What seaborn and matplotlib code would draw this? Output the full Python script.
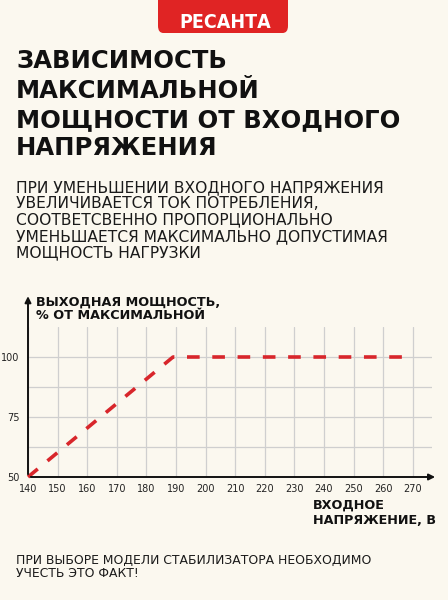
import numpy as np
import pandas as pd
import seaborn as sns
import matplotlib.pyplot as plt
from matplotlib.patches import FancyBboxPatch

# данные графика
voltage = [140, 189, 270]
power = [50, 100, 100]
x_ticks = list(range(140, 271, 10))
y_ticks = [50, 75, 100]
y_minor = [62.5, 87.5]

title_lines = ["ЗАВИСИМОСТЬ", "МАКСИМАЛЬНОЙ", "МОЩНОСТИ ОТ ВХОДНОГО", "НАПРЯЖЕНИЯ"]
sub_lines = [
    "ПРИ УМЕНЬШЕНИИ ВХОДНОГО НАПРЯЖЕНИЯ",
    "УВЕЛИЧИВАЕТСЯ ТОК ПОТРЕБЛЕНИЯ,",
    "СООТВЕТСВЕННО ПРОПОРЦИОНАЛЬНО",
    "УМЕНЬШАЕТСЯ МАКСИМАЛЬНО ДОПУСТИМАЯ",
    "МОЩНОСТЬ НАГРУЗКИ",
]
note_lines = ["ПРИ ВЫБОРЕ МОДЕЛИ СТАБИЛИЗАТОРА НЕОБХОДИМО", "УЧЕСТЬ ЭТО ФАКТ!"]

BG = "#fbf8ef"
RED = "#d8262b"
W, H = 448, 600

sns.set_theme(style="white")
plt.rcParams["font.family"] = ["DejaVu Sans"]

fig = plt.figure(figsize=(W / 100, H / 100), dpi=100, facecolor=BG)


def fx(px):
    return px / W


def fy(py):
    return 1 - py / H


# логотип
logo = FancyBboxPatch((fx(158), fy(33)), fx(288) - fx(158), fy(0) - fy(33) + 0.02,
                      boxstyle="round,pad=0,rounding_size=0.012", transform=fig.transFigure,
                      facecolor="#e02424", edgecolor="none", zorder=1)
fig.patches.append(logo)
fig.text(fx(225), fy(28), "РЕСАНТА", color="white", ha="center", va="baseline",
         fontsize=14, fontweight="bold", fontstretch="condensed",
         family=["Liberation Sans Narrow", "DejaVu Sans"])

# заголовок
for line, base in zip(title_lines, [68, 97.5, 127, 155]):
    fig.text(fx(16), fy(base), line, fontsize=17.5, fontweight="heavy", color="#111111",
             va="baseline", ha="left")

for i, line in enumerate(sub_lines):
    fig.text(fx(16), fy(192 + i * 16.3), line, fontsize=11.2, color="#1a1a1a",
             va="baseline", ha="left")

# график
ax = fig.add_axes([fx(28), fy(477), fx(432) - fx(28), (477 - 327) / H])
ax.set_facecolor(BG)
df = pd.DataFrame({"voltage": voltage, "power": power})
sns.lineplot(data=df, x="voltage", y="power", ax=ax, color=RED, linewidth=2.6,
             dashes=False, zorder=3)
ax.lines[0].set_dashes((3.5, 3.5))
ax.lines[0].set_clip_on(False)

ax.set_xlim(140, 276.5)
ax.set_ylim(50, 112.5)
ax.set_xticks(x_ticks)
ax.set_yticks(y_ticks)
ax.set_yticks(y_minor, minor=True)
ax.xaxis.grid(True, color="#cfcfcf", linewidth=0.9)
ax.yaxis.grid(True, which="both", color="#cfcfcf", linewidth=0.9)
ax.tick_params(axis="both", which="both", length=0, labelsize=7, colors="#222222")
ax.tick_params(axis="x", pad=5)
ax.tick_params(axis="y", pad=6)
for s in ax.spines.values():
    s.set_visible(False)
ax.set_xlabel("")
ax.set_ylabel("")

# стрелки осей
ax.annotate("", xy=(278.5, 50), xytext=(140, 50), xycoords="data",
            arrowprops=dict(arrowstyle="-|>", color="#111111", lw=1.4, mutation_scale=9),
            annotation_clip=False)
ax.annotate("", xy=(140, 126.5), xytext=(140, 50), xycoords="data",
            arrowprops=dict(arrowstyle="-|>", color="#111111", lw=1.4, mutation_scale=9),
            annotation_clip=False)

fig.text(fx(36), fy(306), "ВЫХОДНАЯ МОЩНОСТЬ,", fontsize=9.2, fontweight="bold",
         color="#111111", va="baseline")
fig.text(fx(36), fy(319), "% ОТ МАКСИМАЛЬНОЙ", fontsize=9.2, fontweight="bold",
         color="#111111", va="baseline")
fig.text(fx(313), fy(509), "ВХОДНОЕ", fontsize=9.2, fontweight="bold",
         color="#111111", va="baseline")
fig.text(fx(313), fy(524), "НАПРЯЖЕНИЕ, В", fontsize=9.2, fontweight="bold",
         color="#111111", va="baseline")

for i, line in enumerate(note_lines):
    fig.text(fx(16), fy(564 + i * 13), line, fontsize=8.9, color="#1a1a1a",
             va="baseline", ha="left")

fig.savefig("out.png", dpi=100, facecolor=BG)
